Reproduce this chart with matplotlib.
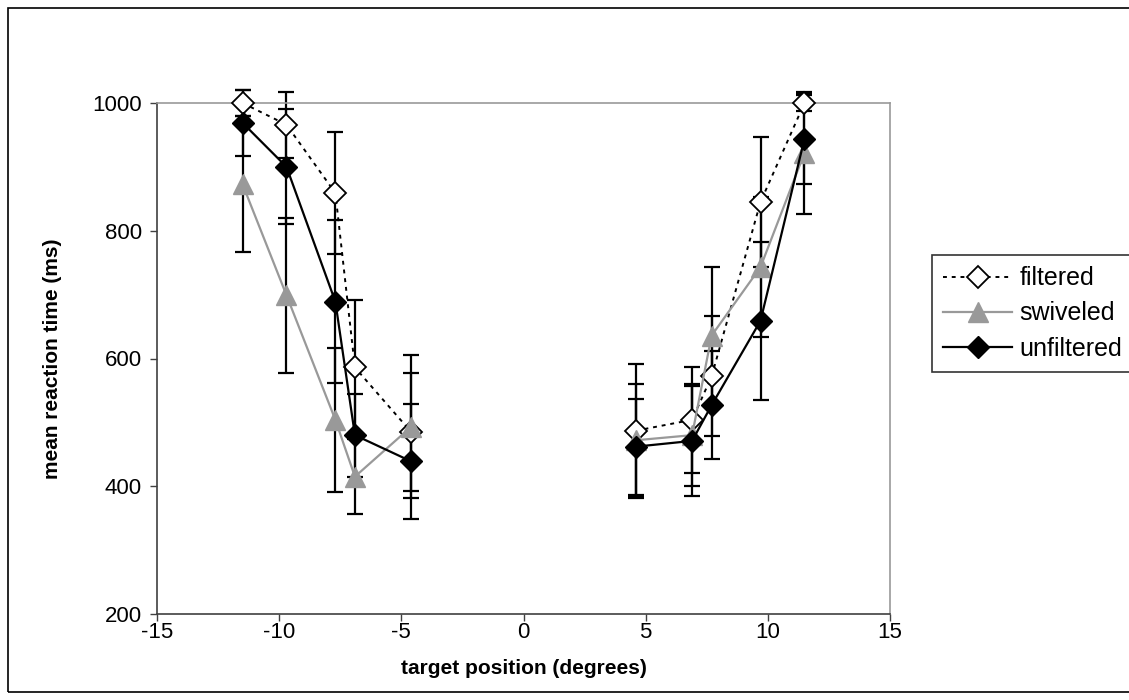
import numpy as np
import matplotlib.pyplot as plt
from matplotlib.patches import Rectangle

plt.rcParams['font.family'] = ['Liberation Sans', 'DejaVu Sans']
plt.rcParams['axes.unicode_minus'] = False

# target positions (degrees)
positions = [-11.5, -9.7, -7.7, -6.9, -4.6, 4.6, 6.9, 7.7, 9.7, 11.5]

filtered = [1000, 966, 859, 586, 485, 487, 504, 572, 845, 1000]
filtered_err = [20, 52, 95, 105, 93, 105, 83, 94, 102, 13]

swiveled = [873, 699, 504, 415, 493, 472, 480, 636, 743, 922]
swiveled_err = [106, 121, 113, 59, 112, 88, 80, 107, 110, 96]

unfiltered = [969, 900, 689, 480, 439, 462, 471, 527, 659, 944]
unfiltered_err = [52, 90, 128, 65, 90, 75, 86, 84, 124, 71]

xticks = [-15, -10, -5, 0, 5, 10, 15]
yticks = [200, 400, 600, 800, 1000]


def draw_series(ax, x, y, err, label, style, z):
    # left and right halves are separate runs, so the middle stays open
    x = np.array(x)
    y = np.array(y)
    err = np.array(err)
    for part in (x < 0, x > 0):
        ax.errorbar(x[part], y[part], yerr=err[part], fmt='none', ecolor='black',
                    elinewidth=1.6, capsize=5.5, capthick=1.6, zorder=2,
                    clip_on=False)
    first = True
    for part in (x < 0, x > 0):
        ax.plot(x[part], y[part], label=label if first else None, zorder=z,
                clip_on=False, **style)
        first = False


fig = plt.figure(figsize=(11.29, 7), dpi=100)
ax = fig.add_axes([157 / 1129, 1 - 614 / 700, (890 - 157) / 1129, (614 - 103) / 700])

draw_series(ax, positions, filtered, filtered_err, 'filtered',
            dict(color='black', linestyle=(0, (2, 2.5)), linewidth=1.4, marker='D',
                 markersize=11, markerfacecolor='white', markeredgecolor='black',
                 markeredgewidth=1.3), 3)
draw_series(ax, positions, swiveled, swiveled_err, 'swiveled',
            dict(color='#999999', linestyle='-', linewidth=1.6, marker='^',
                 markersize=14, markerfacecolor='#999999', markeredgecolor='#999999'), 4)
draw_series(ax, positions, unfiltered, unfiltered_err, 'unfiltered',
            dict(color='black', linestyle='-', linewidth=1.6, marker='D',
                 markersize=11, markerfacecolor='black', markeredgecolor='black'), 5)

ax.set_xlim(-15, 15)
ax.set_ylim(200, 1000)
ax.set_xticks(xticks)
ax.set_yticks(yticks)
ax.tick_params(direction='out', length=5, width=1, labelsize=16, color='#404040')
ax.tick_params(axis='x', pad=1)
ax.tick_params(axis='y', pad=6)

for side in ('left', 'bottom'):
    ax.spines[side].set_color('#404040')
    ax.spines[side].set_linewidth(1.2)
for side in ('top', 'right'):
    ax.spines[side].set_color('#999999')
    ax.spines[side].set_linewidth(1.2)

ax.set_xlabel('target position (degrees)', fontsize=15, fontweight='bold', labelpad=11)
ax.set_ylabel('mean reaction time (ms)', fontsize=15, fontweight='bold', labelpad=22)

leg = fig.legend(loc='upper left', bbox_to_anchor=(932 / 1129, 1 - 255 / 700),
                 fontsize=18, frameon=True, fancybox=False, framealpha=1,
                 edgecolor='#333333', handlelength=2.75, borderpad=0.45,
                 labelspacing=0.45, handletextpad=0.3, borderaxespad=0)
leg.get_frame().set_linewidth(1.2)

# outer chart border (runs off the right edge like the original)
fig.patches.append(Rectangle((8 / 1129, 8 / 700), 1.2, 1 - 16 / 700, transform=fig.transFigure,
                             fill=False, edgecolor='black', linewidth=1.2))

fig.savefig('out.png', dpi=100)
